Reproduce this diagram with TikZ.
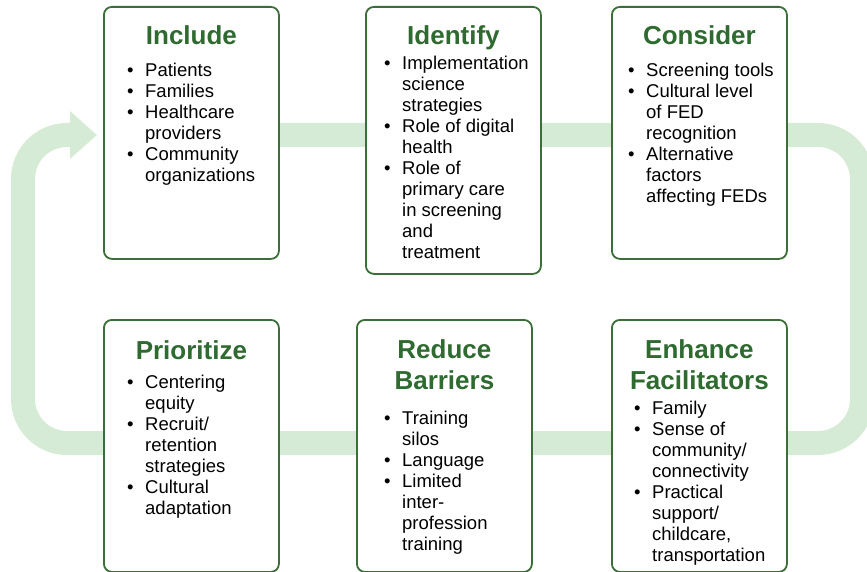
\documentclass[tikz,border=0pt]{standalone}
\usepackage{fontspec}
\setmainfont{Liberation Sans}
\usetikzlibrary{positioning, arrows.meta}
\definecolor{Frame}{HTML}{3B6E38}
\definecolor{Heading}{HTML}{2F6A30}
\definecolor{Band}{HTML}{D6EBD5}
\newcommand{\bul}{\makebox[18pt][l]{\textbullet}}
\newcommand{\ind}{\hspace*{18pt}}
\tikzset{
  stage/.style   = {rectangle, rounded corners=8pt, draw=Frame, line width=1.8pt,
                    fill=white, anchor=north west, inner sep=0pt,
                    minimum width=175pt, minimum height=252pt},
  heading/.style = {font=\fontsize{26}{31}\selectfont\bfseries, text=Heading,
                    align=center, inner sep=0pt},
  items/.style   = {font=\fontsize{18.5}{21}\selectfont, align=left, inner sep=0pt},
  band/.style    = {draw=Band, line width=24pt, rounded corners=44pt,
                    -{Triangle[length=27pt, width=46pt]}},
}

\begin{document}
\begin{tikzpicture}[x=1pt, y=-1pt]
  \useasboundingbox (0,0) rectangle (867,572);

  % the cycle behind the boxes
  \draw[band] (200,135) -- (862,135) -- (862,443) -- (23,443) -- (23,135) -- (97,135);

  % top row
  \node[stage] (include) at (103,6) {};
  \node[stage, minimum height=267pt] (identify) at (365,6) {};
  \node[stage] (consider) at (611,6) {};

  \node[heading, below=19pt of include.north]  (includeT)  {Include};
  \node[heading, below=19pt of identify.north] (identifyT) {Identify};
  \node[heading, below=19pt of consider.north] (considerT) {Consider};

  \node[items, below right=57pt and 24pt of include.north west] (includeL)
    {\bul Patients\\ \bul Families\\ \bul Healthcare\\ \ind providers\\
     \bul Community\\ \ind organizations};
  \node[items, below right=50pt and 19pt of identify.north west] (identifyL)
    {\bul Implementation\\ \ind science\\ \ind strategies\\
     \bul Role of digital\\ \ind health\\
     \bul Role of\\ \ind primary care\\ \ind in screening\\ \ind and\\ \ind treatment};
  \node[items, below right=57pt and 17pt of consider.north west] (considerL)
    {\bul Screening tools\\ \bul Cultural level\\ \ind of FED\\ \ind recognition\\
     \bul Alternative\\ \ind factors\\ \ind affecting FEDs};

  % bottom row
  \node[stage] (prioritize) at (103,319) {};
  \node[stage] (reduce)     at (356,319) {};
  \node[stage] (enhance)    at (611,319) {};

  \node[heading, below=21pt of prioritize.north] (prioritizeT) {Prioritize};
  \node[heading, below=20pt of reduce.north]     (reduceT)     {Reduce\\Barriers};
  \node[heading, below=20pt of enhance.north]    (enhanceT)    {Enhance\\Facilitators};

  \node[items, below right=56pt and 24pt of prioritize.north west] (prioritizeL)
    {\bul Centering\\ \ind equity\\ \bul Recruit/\\ \ind retention\\ \ind strategies\\
     \bul Cultural\\ \ind adaptation};
  \node[items, below right=92pt and 28pt of reduce.north west] (reduceL)
    {\bul Training\\ \ind silos\\ \bul Language\\
     \bul Limited\\ \ind inter-\\ \ind profession\\ \ind training};
  \node[items, below right=82pt and 23pt of enhance.north west] (enhanceL)
    {\bul Family\\ \bul Sense of\\ \ind community/\\ \ind connectivity\\
     \bul Practical\\ \ind support/\\ \ind childcare,\\ \ind transportation};
\end{tikzpicture}
\end{document}
